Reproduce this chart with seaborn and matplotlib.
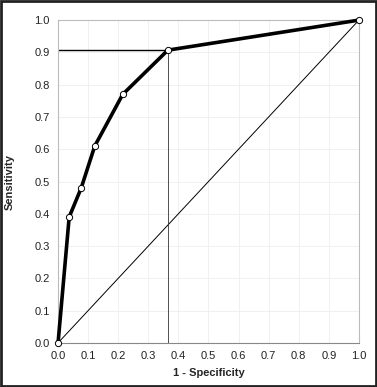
import numpy as np
import pandas as pd
import matplotlib
matplotlib.use('Agg')
import matplotlib.pyplot as plt
import seaborn as sns

# ROC curve points
fpr = [0.0, 0.037, 0.077, 0.122, 0.215, 0.365, 1.0]
tpr = [0.0, 0.39, 0.48, 0.61, 0.77, 0.907, 1.0]
cut_x = 0.365
cut_y = 0.907
ticks = [0.0, 0.1, 0.2, 0.3, 0.4, 0.5, 0.6, 0.7, 0.8, 0.9, 1.0]

roc = pd.DataFrame({'fpr': fpr, 'tpr': tpr})

sns.set_style('white')
plt.rcParams['font.family'] = ['Liberation Sans', 'DejaVu Sans']

fig = plt.figure(figsize=(3.77, 3.87), dpi=100)
ax = fig.add_axes([0.154, 0.114, 0.798, 0.834])

ax.grid(True, color='#eeeeee', linewidth=0.6)
ax.set_axisbelow(True)

# chance diagonal
sns.lineplot(x=[0, 1], y=[0, 1], color='black', linewidth=0.7, ax=ax)
# cut-off guide lines
ax.plot([0, cut_x], [cut_y, cut_y], color='black', linewidth=1.0)
ax.plot([cut_x, cut_x], [0, cut_y], color='#333333', linewidth=0.6)

sns.lineplot(data=roc, x='fpr', y='tpr', color='black', linewidth=2.6,
             marker='o', markersize=4.5, markerfacecolor='white',
             markeredgecolor='black', markeredgewidth=0.7, sort=False, ax=ax,
             zorder=5)
for ln in ax.lines[-1:]:
    ln.set_clip_on(False)

ax.set_xlim(0, 1)
ax.set_ylim(0, 1)
ax.set_xticks(ticks)
ax.set_yticks(ticks)
ax.set_xticklabels([f'{t:.1f}' for t in ticks], fontsize=8, color='#222222')
ax.set_yticklabels([f'{t:.1f}' for t in ticks], fontsize=8, color='#222222')
ax.tick_params(length=0, pad=6)
ax.set_xlabel('1 - Specificity', fontsize=8, fontweight='bold', labelpad=5)
ax.set_ylabel('Sensitivity', fontsize=8, fontweight='bold', labelpad=14)

for side in ['top', 'right', 'left']:
    ax.spines[side].set_color('#bbbbbb')
    ax.spines[side].set_linewidth(0.8)
ax.spines['bottom'].set_color('#888888')
ax.spines['bottom'].set_linewidth(0.8)

# outer frame around the whole figure
fig.patches.append(plt.Rectangle((0.003, 0.003), 0.994, 0.994, transform=fig.transFigure,
                                 fill=False, edgecolor='#222222', linewidth=2))

fig.savefig('out.png', dpi=100)
